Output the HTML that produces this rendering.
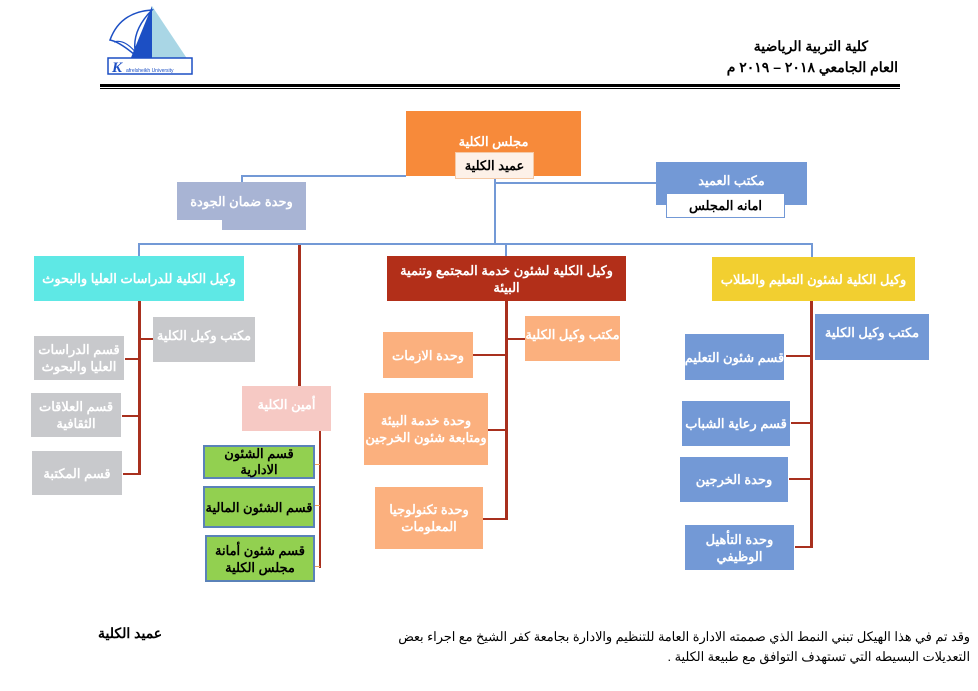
<!DOCTYPE html>
<html><head><meta charset="utf-8">
<style>
body{margin:0;width:978px;height:691px;background:#fff;position:relative;overflow:hidden;font-family:"Liberation Sans","Noto Sans CJK SC",sans-serif;}
.b{position:absolute;display:flex;align-items:center;justify-content:center;text-align:center;color:#fff;font-size:13px;font-weight:bold;direction:rtl;line-height:17px;box-sizing:border-box;}
.n{white-space:nowrap;}
.l{position:absolute;}
.g{background:#c8c9cc;}
.s{background:#fbb07e;}
.u{background:#7399d6;}
.gr{background:#92d050;border:2px solid #5a82b8;color:#000;}
.t{position:absolute;direction:rtl;white-space:nowrap;}
</style></head><body>
<!-- logo -->
<svg style="position:absolute;left:100px;top:2px" width="100" height="78" viewBox="0 0 100 78">
<path d="M52 4 L88 58 L52 58 Z" fill="#a9d6e5"/>
<path d="M52 4 L52 58 L30 58 Z" fill="#1c4fc4"/>
<path d="M10 38 Q20 10 52 8 Q30 30 36 54 Q20 40 10 38Z" fill="none" stroke="#1c4fc4" stroke-width="1.5"/>
<path d="M14 40 Q26 36 40 56" fill="none" stroke="#1c4fc4" stroke-width="1.2"/>
<rect x="8" y="56" width="84" height="16" fill="#fff" stroke="#1c4fc4" stroke-width="1.5"/>
<text x="12" y="70" font-family="Liberation Serif" font-style="italic" font-weight="bold" font-size="15" fill="#1c4fc4">K</text>
<text x="26" y="70" font-family="Liberation Sans" font-size="5" fill="#1c4fc4">afrelsheikh University</text>
</svg>
<div class="t" style="right:110px;top:38px;font-size:14px;font-weight:bold">كلية التربية الرياضية</div>
<div class="t" style="right:80px;top:59px;font-size:14px;font-weight:bold">العام الجامعي ٢٠١٨ – ٢٠١٩ م</div>
<div class="l" style="left:100px;top:84px;width:800px;height:3px;background:#000"></div>
<div class="l" style="left:100px;top:88px;width:800px;height:1px;background:#000"></div>

<!-- blue connectors -->
<div class="l" style="left:241px;top:175px;width:165px;height:2px;background:#7399d6"></div>
<div class="l" style="left:241px;top:175px;width:2px;height:8px;background:#7399d6"></div>
<div class="l" style="left:494px;top:179px;width:2px;height:66px;background:#7399d6"></div>
<div class="l" style="left:496px;top:182px;width:160px;height:2px;background:#7399d6"></div>
<div class="l" style="left:138px;top:243px;width:675px;height:2px;background:#7399d6"></div>
<div class="l" style="left:138px;top:243px;width:2px;height:13px;background:#7399d6"></div>
<div class="l" style="left:505px;top:243px;width:2px;height:13px;background:#7399d6"></div>
<div class="l" style="left:811px;top:243px;width:2px;height:14px;background:#7399d6"></div>

<!-- top boxes -->
<div class="b" style="left:406px;top:111px;width:175px;height:65px;background:#f78a3a;align-items:flex-start;padding-top:22px">مجلس الكلية</div>
<div class="b" style="left:455px;top:152px;width:79px;height:27px;background:#fdf1e8;border:1px solid #f5c9a5;color:#000">عميد الكلية</div>
<div class="b n" style="left:177px;top:182px;width:129px;height:38px;background:#a8b4d4">وحدة ضمان الجودة</div>
<div class="l" style="left:222px;top:219px;width:84px;height:11px;background:#a8b4d4"></div>
<div class="b" style="left:656px;top:162px;width:151px;height:43px;background:#7399d6;align-items:flex-start;padding-top:10px">مكتب العميد</div>
<div class="b" style="left:666px;top:193px;width:119px;height:25px;background:#fff;border:1px solid #7399d6;color:#000">امانه المجلس</div>

<!-- level 2 -->
<div class="b n" style="left:34px;top:256px;width:210px;height:45px;background:#5ee8e5">وكيل الكلية للدراسات العليا والبحوث</div>
<div class="b" style="left:387px;top:256px;width:239px;height:45px;background:#b22f19;padding:0 6px">وكيل الكلية لشئون خدمة المجتمع وتنمية البيئة</div>
<div class="b n" style="left:712px;top:257px;width:203px;height:44px;background:#f2cf30">وكيل الكلية لشئون التعليم والطلاب</div>

<!-- red connectors -->
<div class="l" style="left:138px;top:301px;width:3px;height:174px;background:#a8301e"></div>
<div class="l" style="left:139px;top:338px;width:14px;height:2px;background:#a8301e"></div>
<div class="l" style="left:125px;top:358px;width:14px;height:2px;background:#a8301e"></div>
<div class="l" style="left:122px;top:415px;width:17px;height:2px;background:#a8301e"></div>
<div class="l" style="left:123px;top:473px;width:16px;height:2px;background:#a8301e"></div>

<div class="l" style="left:298px;top:245px;width:3px;height:141px;background:#a8301e"></div>
<div class="l" style="left:319px;top:429px;width:2px;height:139px;background:#a8301e"></div>
<div class="l" style="left:315px;top:464px;width:5px;height:1px;background:#f0a060"></div>
<div class="l" style="left:315px;top:505px;width:5px;height:1px;background:#f0a060"></div>
<div class="l" style="left:315px;top:566px;width:5px;height:1px;background:#f0a060"></div>

<div class="l" style="left:505px;top:301px;width:3px;height:219px;background:#a8301e"></div>
<div class="l" style="left:507px;top:338px;width:18px;height:2px;background:#a8301e"></div>
<div class="l" style="left:473px;top:354px;width:33px;height:2px;background:#a8301e"></div>
<div class="l" style="left:488px;top:429px;width:18px;height:2px;background:#a8301e"></div>
<div class="l" style="left:483px;top:518px;width:23px;height:2px;background:#a8301e"></div>

<div class="l" style="left:810px;top:301px;width:3px;height:247px;background:#a8301e"></div>
<div class="l" style="left:786px;top:355px;width:25px;height:2px;background:#a8301e"></div>
<div class="l" style="left:791px;top:422px;width:20px;height:2px;background:#a8301e"></div>
<div class="l" style="left:789px;top:478px;width:22px;height:2px;background:#a8301e"></div>
<div class="l" style="left:795px;top:546px;width:16px;height:2px;background:#a8301e"></div>

<!-- left column -->
<div class="b g n" style="left:153px;top:317px;width:102px;height:45px;align-items:flex-start;padding-top:10px">مكتب وكيل الكلية</div>
<div class="b g" style="left:34px;top:336px;width:90px;height:44px">قسم الدراسات العليا والبحوث</div>
<div class="b g" style="left:31px;top:393px;width:90px;height:44px">قسم العلاقات الثقافية</div>
<div class="b g" style="left:32px;top:451px;width:90px;height:44px">قسم المكتبة</div>

<!-- amin -->
<div class="b" style="left:242px;top:386px;width:89px;height:45px;background:#f6c9c4;align-items:flex-start;padding-top:10px">أمين الكلية</div>
<div class="b gr" style="left:203px;top:445px;width:112px;height:34px;line-height:16px">قسم الشئون الادارية</div>
<div class="b gr n" style="left:203px;top:486px;width:112px;height:42px">قسم الشئون المالية</div>
<div class="b gr" style="left:205px;top:535px;width:110px;height:47px">قسم شئون أمانة مجلس الكلية</div>

<!-- middle column -->
<div class="b s n" style="left:525px;top:316px;width:95px;height:45px;align-items:flex-start;padding-top:10px">مكتب وكيل الكلية</div>
<div class="b s" style="left:383px;top:332px;width:90px;height:46px">وحدة الازمات</div>
<div class="b s" style="left:364px;top:393px;width:124px;height:72px">وحدة خدمة البيئة ومتابعة شئون الخرجين</div>
<div class="b s" style="left:375px;top:487px;width:108px;height:62px;padding:0 14px">وحدة تكنولوجيا المعلومات</div>

<!-- right column -->
<div class="b u n" style="left:815px;top:314px;width:114px;height:46px;align-items:flex-start;padding-top:10px">مكتب وكيل الكلية</div>
<div class="b u n" style="left:685px;top:334px;width:99px;height:46px">قسم شئون التعليم</div>
<div class="b u n" style="left:682px;top:401px;width:108px;height:45px">قسم رعاية الشباب</div>
<div class="b u" style="left:680px;top:457px;width:108px;height:45px">وحدة الخرجين</div>
<div class="b u" style="left:685px;top:525px;width:109px;height:45px;padding:0 20px">وحدة التأهيل الوظيفي</div>

<!-- footer -->
<div class="t" style="left:98px;top:625px;font-size:14px;font-weight:bold">عميد الكلية</div>
<div class="t" style="right:8px;top:627px;font-size:12.8px;line-height:20px;width:572px;white-space:normal;text-align:right">وقد تم في هذا الهيكل تبني النمط الذي صممته الادارة العامة للتنظيم والادارة بجامعة كفر الشيخ مع اجراء بعض التعديلات البسيطه التي تستهدف التوافق مع طبيعة الكلية .</div>
</body></html>
